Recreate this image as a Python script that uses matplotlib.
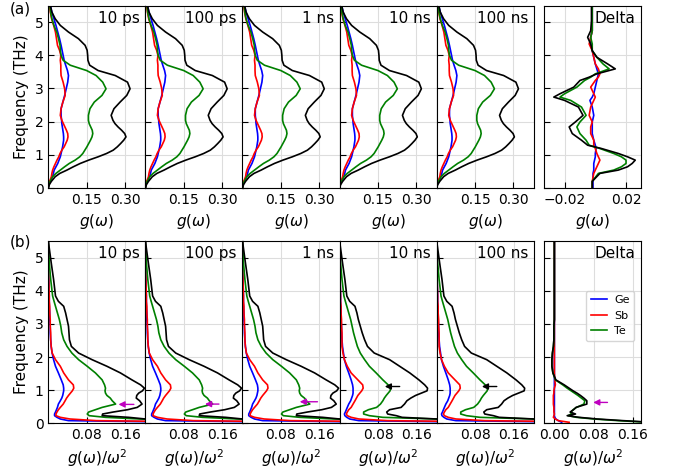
import matplotlib.pyplot as plt

times = ['10 ps', '100 ps', '1 ns', '10 ns', '100 ns']

# ---- (a) g(w), same shape for all times
f_top = [0, 0.1, 0.2, 0.34, 0.44, 0.54, 0.64, 0.74, 0.84, 0.94, 1.04, 1.14, 1.24, 1.34,
         1.44, 1.54, 1.64, 1.74, 1.84, 1.94, 2.04, 2.19, 2.39, 2.59, 2.79, 2.99, 3.19,
         3.39, 3.54, 3.7, 3.85, 4.0, 4.15, 4.3, 4.5, 4.7, 4.9, 5.1, 5.3, 5.5]
ge_top = [0, 0.002, 0.007, 0.016, 0.020, 0.023, 0.030, 0.037, 0.042, 0.047, 0.050, 0.053,
          0.056, 0.058, 0.060, 0.060, 0.059, 0.057, 0.055, 0.053, 0.052, 0.050, 0.050,
          0.057, 0.064, 0.070, 0.076, 0.079, 0.075, 0.068, 0.062, 0.058, 0.054, 0.050,
          0.044, 0.037, 0.030, 0.022, 0.014, 0.008]
sb_top = [0, 0.001, 0.005, 0.012, 0.014, 0.017, 0.022, 0.028, 0.034, 0.041, 0.046, 0.053,
          0.062, 0.068, 0.074, 0.077, 0.076, 0.071, 0.065, 0.059, 0.053, 0.047, 0.050,
          0.057, 0.066, 0.064, 0.058, 0.050, 0.049, 0.049, 0.047, 0.049, 0.044, 0.036,
          0.032, 0.028, 0.021, 0.013, 0.008, 0.005]
te_top = [0, 0.002, 0.007, 0.017, 0.030, 0.047, 0.064, 0.082, 0.105, 0.123, 0.135, 0.143,
          0.151, 0.158, 0.165, 0.171, 0.174, 0.172, 0.166, 0.160, 0.157, 0.157, 0.163,
          0.180, 0.210, 0.226, 0.213, 0.187, 0.150, 0.086, 0.058, 0.050, 0.047, 0.046,
          0.040, 0.033, 0.022, 0.014, 0.009, 0.006]
tot_top = [0, 0.004, 0.012, 0.027, 0.045, 0.073, 0.098, 0.125, 0.158, 0.195, 0.228, 0.254,
           0.270, 0.283, 0.295, 0.304, 0.299, 0.287, 0.273, 0.261, 0.253, 0.246, 0.257,
           0.281, 0.307, 0.320, 0.310, 0.262, 0.195, 0.162, 0.155, 0.154, 0.152, 0.144,
           0.118, 0.079, 0.047, 0.027, 0.014, 0.008]

# ---- (a) Delta
f_dt = [0, 0.2, 0.44, 0.54, 0.64, 0.74, 0.84, 0.94, 1.04, 1.19, 1.29, 1.44, 1.64, 1.84,
        1.99, 2.19, 2.44, 2.64, 2.74, 2.84, 3.04, 3.24, 3.34, 3.44, 3.59, 3.74, 3.94,
        4.14, 4.34, 4.54, 4.74, 5.04, 5.5]
ge_dt = [-0.0015, -0.0015, -0.0015, -0.001, -0.001, -0.001, -0.0005, 0.0, 0.0, 0.0005,
         0.0, -0.001, -0.002, -0.002, -0.002, -0.001, -0.002, -0.0035, -0.002, -0.001,
         0.0, 0.001, 0.0015, 0.002, 0.001, 0.0, -0.001, -0.002, -0.003, -0.003, -0.002,
         -0.002, -0.002]
sb_dt = [-0.002, -0.002, -0.001, 0.0, 0.001, 0.002, 0.003, 0.002, 0.001, 0.0, -0.001,
         -0.001, -0.003, -0.003, -0.002, -0.004, -0.003, -0.001, 0.0, -0.001, -0.003, 0.0,
         0.002, 0.003, 0.002, 0.0, -0.001, -0.002, -0.004, -0.003, -0.002, -0.002, -0.002]
te_dt = [-0.002, -0.002, 0.002, 0.012, 0.017, 0.020, 0.020, 0.017, 0.012, 0.003, -0.004,
         -0.006, -0.010, -0.012, -0.010, -0.006, -0.009, -0.016, -0.023, -0.020, -0.012,
         -0.007, -0.003, 0.0, 0.009, 0.005, 0.001, -0.002, -0.002, -0.003, -0.002, -0.002,
         -0.002]
tot_dt = [-0.002, -0.002, 0.003, 0.015, 0.021, 0.024, 0.026, 0.021, 0.015, 0.004, -0.005,
          -0.009, -0.015, -0.017, -0.013, -0.008, -0.011, -0.020, -0.027, -0.023, -0.014,
          -0.010, -0.004, 0.001, 0.013, 0.008, 0.001, -0.002, -0.003, -0.005, -0.003,
          -0.0025, -0.0025]

# ---- (b) g(w)/w^2
f_bot = [0.03, 0.08, 0.13, 0.18, 0.23, 0.28, 0.34, 0.41, 0.48, 0.58, 0.68, 0.76, 0.84,
         0.91, 0.98, 1.06, 1.16, 1.31, 1.52, 1.72, 1.92, 2.12, 2.32, 2.52, 2.73, 2.93,
         3.13, 3.33, 3.53, 3.68, 3.84, 4.34, 4.85, 5.5]
ge_early = [0.3, 0.042, 0.025, 0.018, 0.013, 0.013, 0.015, 0.017, 0.019, 0.021, 0.025,
            0.028, 0.030, 0.031, 0.032, 0.032, 0.031, 0.027, 0.021, 0.015, 0.011, 0.008,
            0.006, 0.005, 0.004, 0.004, 0.003, 0.003, 0.002, 0.002, 0.002, 0.001, 0.0, 0.0]
sb_early = [0.4, 0.1, 0.045, 0.025, 0.016, 0.016, 0.018, 0.021, 0.025, 0.031, 0.035, 0.038,
            0.042, 0.046, 0.050, 0.053, 0.052, 0.042, 0.032, 0.025, 0.015, 0.008, 0.006,
            0.005, 0.005, 0.004, 0.004, 0.003, 0.003, 0.002, 0.002, 0.001, 0.0, 0.0]
te_early = [0.5, 0.3, 0.19, 0.119, 0.085, 0.081, 0.084, 0.098, 0.112, 0.140, 0.133, 0.129,
            0.122, 0.119, 0.118, 0.119, 0.117, 0.112, 0.098, 0.081, 0.063, 0.049, 0.039,
            0.032, 0.028, 0.026, 0.023, 0.019, 0.015, 0.012, 0.009, 0.005, 0.002, 0.0]
tot_early = [0.5, 0.35, 0.202, 0.167, 0.112, 0.113, 0.135, 0.165, 0.185, 0.195, 0.19,
             0.183, 0.184, 0.188, 0.196, 0.200, 0.192, 0.174, 0.150, 0.122, 0.091, 0.063,
             0.048, 0.044, 0.043, 0.042, 0.039, 0.036, 0.032, 0.021, 0.015, 0.011, 0.006, 0.0]
ge_late = [0.3, 0.040, 0.021, 0.015, 0.011, 0.010, 0.012, 0.014, 0.016, 0.019, 0.023,
           0.025, 0.027, 0.028, 0.028, 0.028, 0.027, 0.024, 0.019, 0.014, 0.010, 0.008,
           0.006, 0.005, 0.004, 0.004, 0.003, 0.003, 0.002, 0.002, 0.002, 0.001, 0.0, 0.0]
sb_late = [0.4, 0.1, 0.04, 0.024, 0.016, 0.014, 0.016, 0.019, 0.024, 0.028, 0.032, 0.035,
           0.038, 0.042, 0.046, 0.049, 0.048, 0.038, 0.024, 0.016, 0.010, 0.007, 0.005,
           0.005, 0.005, 0.004, 0.004, 0.003, 0.003, 0.002, 0.002, 0.001, 0.0, 0.0]
te_late = [0.5, 0.3, 0.2, 0.09, 0.062, 0.050, 0.050, 0.060, 0.077, 0.085, 0.090, 0.093,
           0.097, 0.101, 0.105, 0.106, 0.101, 0.090, 0.076, 0.062, 0.052, 0.043, 0.037,
           0.033, 0.029, 0.026, 0.023, 0.019, 0.015, 0.012, 0.009, 0.005, 0.002, 0.0]
tot_late = [0.5, 0.35, 0.202, 0.13, 0.118, 0.100, 0.098, 0.104, 0.128, 0.135, 0.140, 0.148,
            0.158, 0.170, 0.182, 0.183, 0.177, 0.165, 0.146, 0.125, 0.104, 0.072, 0.058,
            0.052, 0.047, 0.043, 0.039, 0.036, 0.032, 0.021, 0.015, 0.011, 0.006, 0.0]

# ---- (b) Delta
ge_db = [0.015, 0.008, 0.003, 0.001, 0.0, 0.0, 0.0, 0.0, 0.0, 0.0, 0.0, 0.0, 0.0, 0.0,
         0.0, 0.0, 0.0, 0.0, 0.0, 0.0, 0.0, 0.0, 0.0, 0.0, 0.0, 0.0, 0.0, 0.0, 0.0, 0.0,
         0.0, 0.0, 0.0, 0.0]
sb_db = [0.03, 0.008, 0.002, -0.002, -0.001, 0.0, -0.001, -0.001, -0.001, -0.002, -0.002,
         -0.002, -0.002, -0.001, -0.001, 0.0, 0.002, 0.001, 0.0, 0.0, 0.0, 0.0, 0.0, 0.0,
         0.0, 0.0, 0.0, 0.0, 0.0, 0.0, 0.0, 0.0, 0.0, 0.0]
te_db = [0.19, 0.13, 0.08, 0.045, 0.028, 0.034, 0.034, 0.038, 0.045, 0.060, 0.062, 0.055,
         0.048, 0.041, 0.034, 0.026, 0.017, 0.002, -0.003, -0.005, -0.005, -0.004, -0.002,
         -0.001, -0.001, -0.001, 0.0, 0.0, 0.0, 0.0, 0.0, 0.0, 0.0, 0.0]
tot_db = [0.2, 0.14, 0.087, 0.05, 0.026, 0.043, 0.032, 0.039, 0.044, 0.066, 0.066, 0.060,
          0.053, 0.046, 0.038, 0.030, 0.020, 0.003, -0.003, -0.005, -0.005, -0.004, -0.002,
          -0.001, -0.001, -0.001, 0.0, 0.0, 0.0, 0.0, 0.0, 0.0, 0.0, 0.0]

colors = ['b', 'r', 'g', 'k']
names = ['Ge', 'Sb', 'Te']

fig = plt.figure(figsize=(6.78, 4.70), dpi=100)
W = 97.1 / 678
L0 = 48.3 / 678
top_y = (1 - 188 / 470, (188 - 5.5) / 470)
bot_y = (1 - 423.3 / 470, (423.3 - 241) / 470)
DL = 544.3 / 678


def style(ax, first):
    ax.set_ylim(0, 5.5)
    ax.set_yticks([0, 1, 2, 3, 4, 5])
    ax.tick_params(direction='in', length=4, labelsize=10)
    ax.grid(True, color='#dddddd', lw=0.8)
    ax.set_axisbelow(True)
    if first:
        ax.set_ylabel('Frequency (THz)', fontsize=11)
    else:
        ax.set_yticklabels([])


def draw(ax, freq, series):
    for vals, c in zip(series, colors):
        ax.plot(vals, freq, color=c, lw=1.2)


def arrow(ax, c, x0, x1, fy):
    ax.annotate('', xy=(x1, fy), xytext=(x0, fy),
                arrowprops=dict(arrowstyle='-|>', color=c, lw=1.0, mutation_scale=9,
                                shrinkA=0, shrinkB=0))


# (a)
for i, t in enumerate(times):
    ax = fig.add_axes([L0 + i * W, top_y[0], W, top_y[1]])
    draw(ax, f_top, [ge_top, sb_top, te_top, tot_top])
    ax.set_xlim(0, 0.38)
    ax.set_xticks([0.15, 0.30])
    ax.set_xticklabels(['0.15', '0.30'])
    style(ax, i == 0)
    ax.set_xlabel(r'$g(\omega)$', fontsize=11)
    ax.text(0.94, 0.97, t, transform=ax.transAxes, ha='right', va='top', fontsize=11)

ax = fig.add_axes([DL, top_y[0], W, top_y[1]])
draw(ax, f_dt, [ge_dt, sb_dt, te_dt, tot_dt])
ax.set_xlim(-0.0332, 0.030)
ax.set_xticks([-0.02, 0.02])
style(ax, False)
ax.set_xlabel(r'$g(\omega)$', fontsize=11)
ax.text(0.94, 0.97, 'Delta', transform=ax.transAxes, ha='right', va='top', fontsize=11)

# (b)
bot_sets = [(ge_early, sb_early, te_early, tot_early)] * 3 + \
           [(ge_late, sb_late, te_late, tot_late)] * 2
arrows = [('m', 0.178, 0.146, 0.57), ('m', 0.153, 0.124, 0.58), ('m', 0.156, 0.119, 0.65),
          ('k', 0.125, 0.094, 1.11), ('k', 0.125, 0.094, 1.11)]
for i, t in enumerate(times):
    ax = fig.add_axes([L0 + i * W, bot_y[0], W, bot_y[1]])
    draw(ax, f_bot, bot_sets[i])
    ax.set_xlim(0, 0.202)
    ax.set_xticks([0.08, 0.16])
    style(ax, i == 0)
    ax.set_xlabel(r'$g(\omega)/\omega^2$', fontsize=11)
    ax.text(0.94, 0.97, t, transform=ax.transAxes, ha='right', va='top', fontsize=11)
    arrow(ax, *arrows[i])

ax = fig.add_axes([DL, bot_y[0], W, bot_y[1]])
draw(ax, f_bot, [ge_db, sb_db, te_db, tot_db])
for line, n in zip(ax.lines, names):
    line.set_label(n)
ax.set_xlim(-0.0205, 0.177)
ax.set_xticks([0.0, 0.08, 0.16])
style(ax, False)
ax.set_xlabel(r'$g(\omega)/\omega^2$', fontsize=11)
ax.text(0.94, 0.97, 'Delta', transform=ax.transAxes, ha='right', va='top', fontsize=11)
arrow(ax, 'm', 0.108, 0.079, 0.63)
ax.legend(loc='center right', bbox_to_anchor=(0.98, 0.59), fontsize=8,
          handlelength=1.5, borderpad=0.4, labelspacing=0.5, handletextpad=0.6)

fig.text(0.014, 0.997, '(a)', ha='left', va='top', fontsize=11)
fig.text(0.014, 0.502, '(b)', ha='left', va='top', fontsize=11)

plt.savefig('out.png', dpi=100)
